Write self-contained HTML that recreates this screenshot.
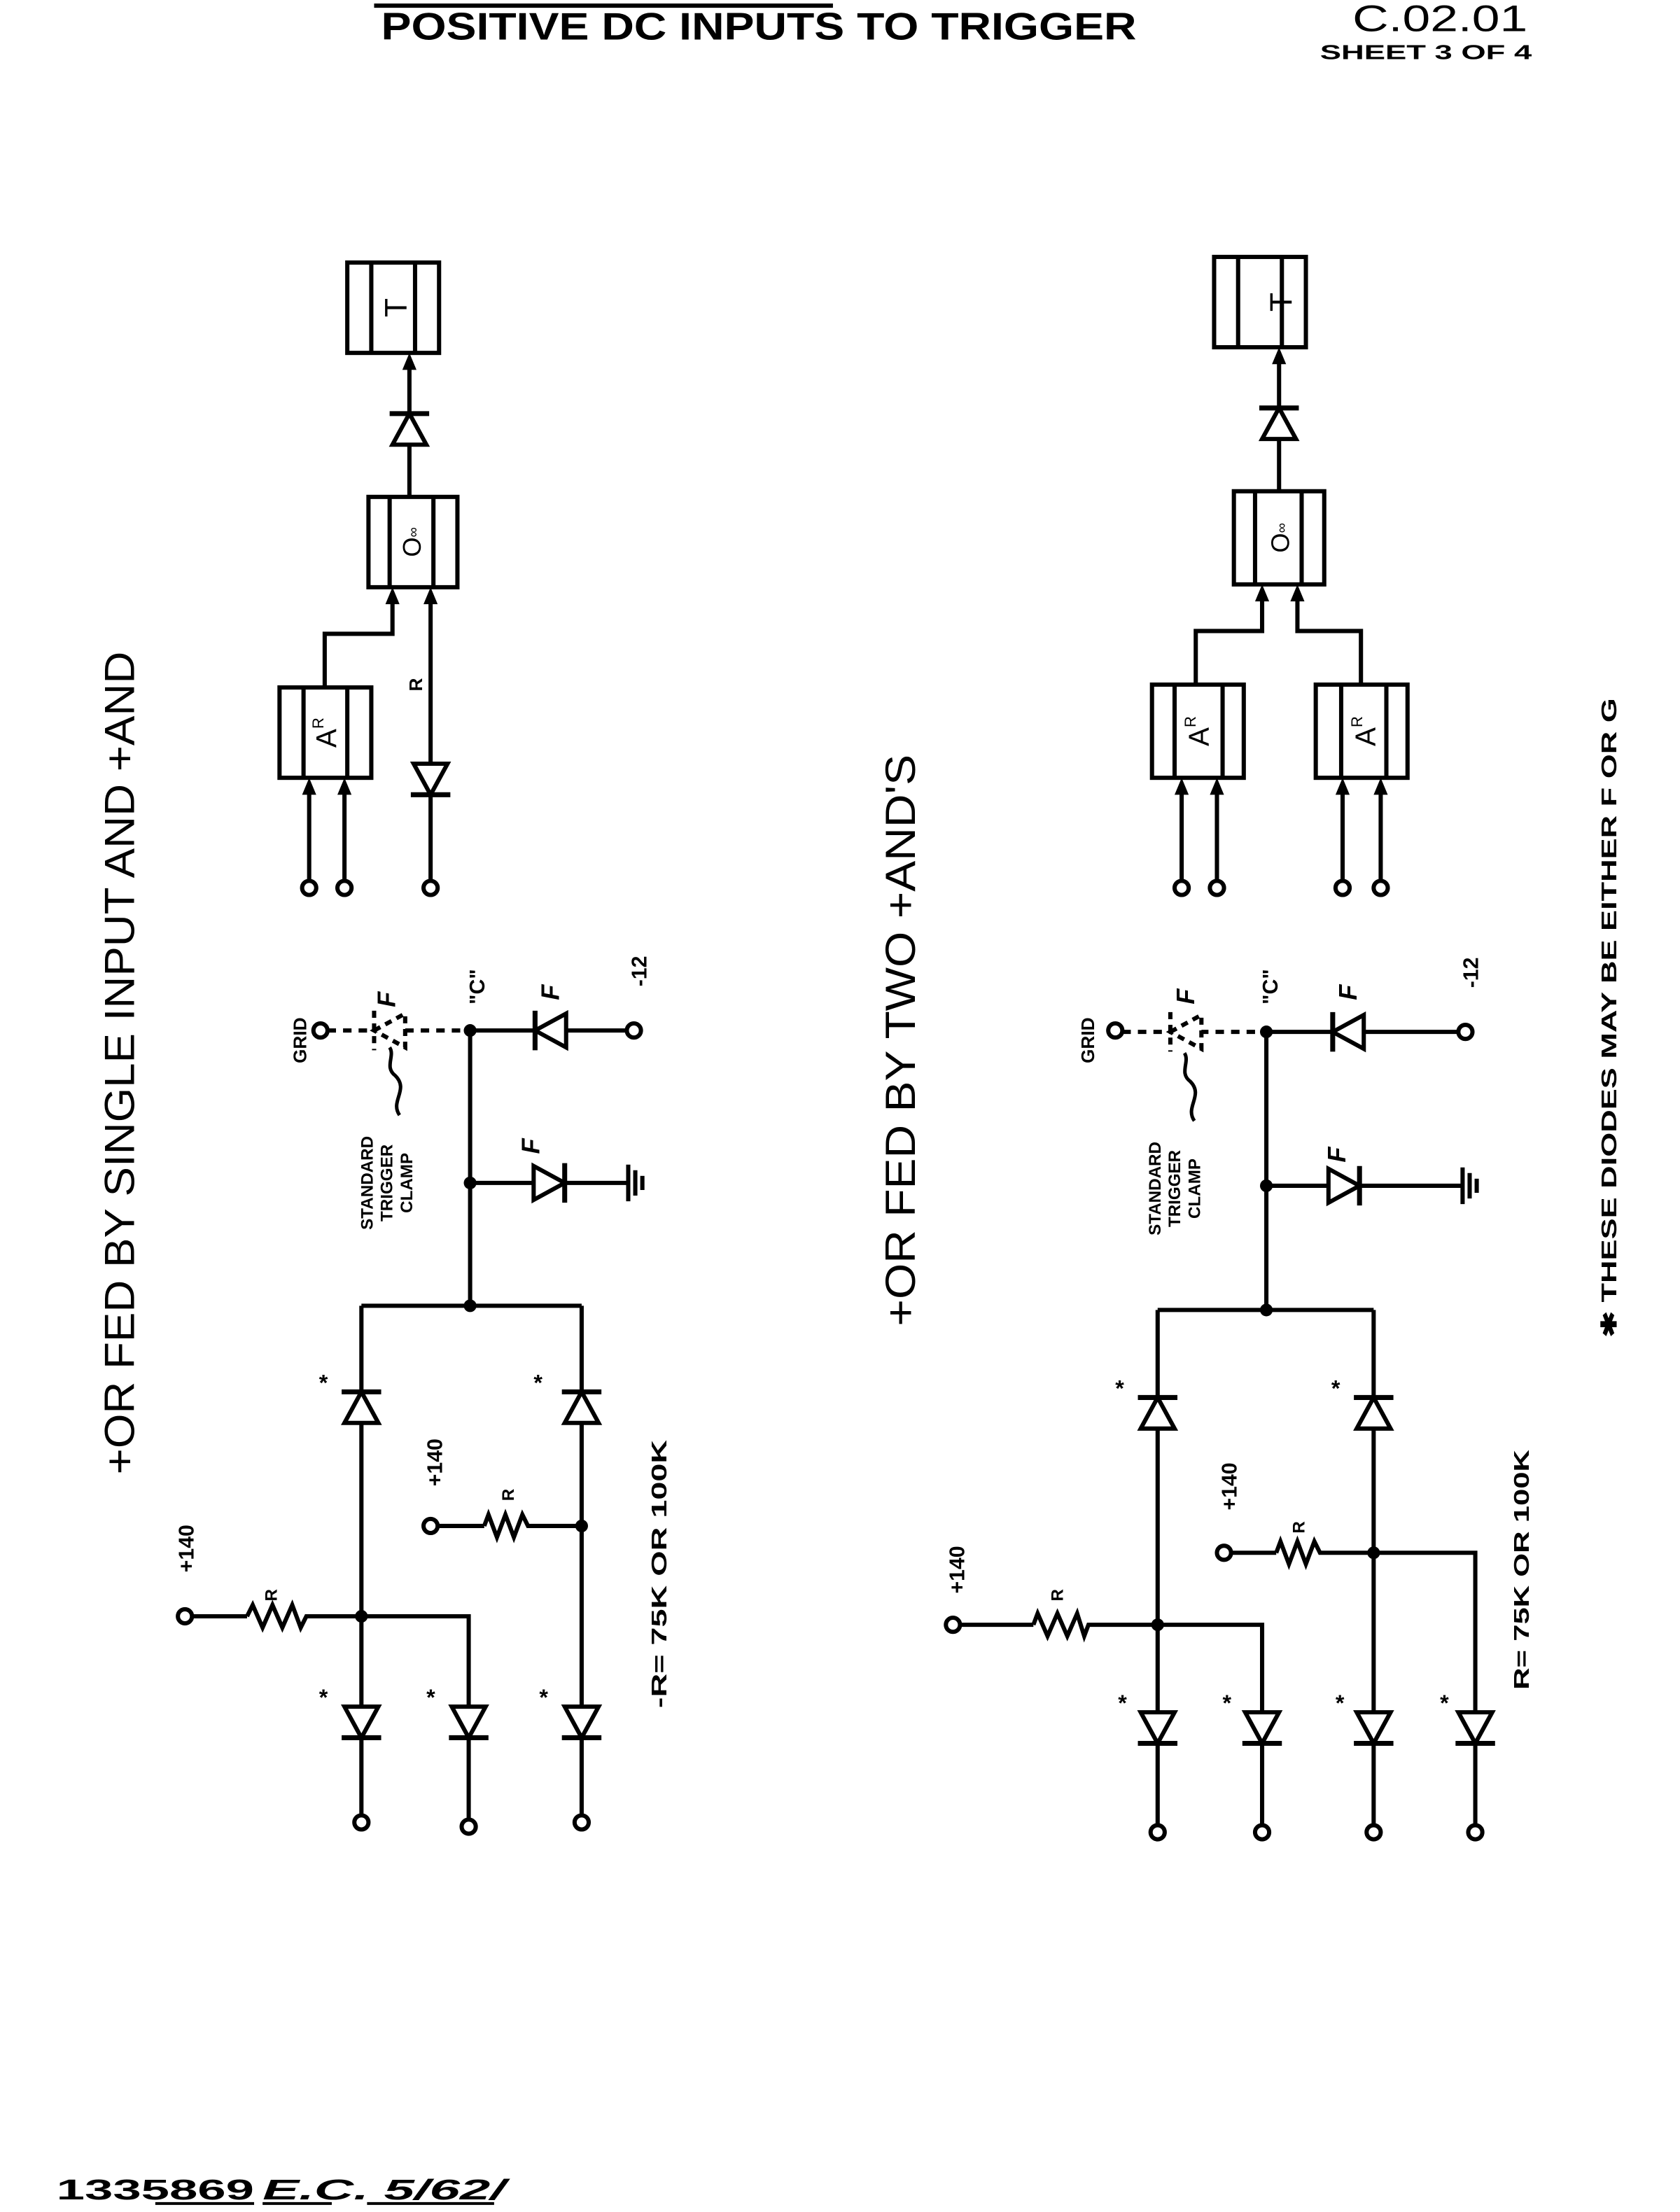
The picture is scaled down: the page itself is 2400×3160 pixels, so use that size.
<!DOCTYPE html>
<html><head><meta charset="utf-8"><style>
html,body{margin:0;padding:0;background:#fff;}
svg{display:block;}
text{font-family:"Liberation Sans",sans-serif;font-weight:bold;fill:#000;}
</style></head><body>
<svg xmlns="http://www.w3.org/2000/svg" width="2400" height="3160" viewBox="0 0 1190 1567" preserveAspectRatio="none">
<defs>
<g id="du"><polygon points="0,-11 -12,11 12,11" fill="#fff" stroke="#000" stroke-width="3"/><line x1="-14" y1="-11" x2="14" y2="-11" stroke="#000" stroke-width="3.5"/></g>
<g id="dd"><polygon points="0,11 -12,-11 12,-11" fill="#fff" stroke="#000" stroke-width="3"/><line x1="-14" y1="11" x2="14" y2="11" stroke="#000" stroke-width="3.5"/></g>
<g id="dl"><polygon points="-11,0 11,-12 11,12" fill="#fff" stroke="#000" stroke-width="3"/><line x1="-11" y1="-14" x2="-11" y2="14" stroke="#000" stroke-width="3.5"/></g>
<g id="dr"><polygon points="11,0 -11,-12 -11,12" fill="#fff" stroke="#000" stroke-width="3"/><line x1="11" y1="-14" x2="11" y2="14" stroke="#000" stroke-width="3.5"/></g>
<g id="dld"><polygon points="-11,0 11,-12 11,12" fill="#fff" stroke="#000" stroke-width="3" stroke-dasharray="5 4"/><line x1="-11" y1="-14" x2="-11" y2="14" stroke="#000" stroke-width="3" stroke-dasharray="5 4"/></g>
</defs>

<!-- header -->
<line x1="265" y1="4" x2="590" y2="4" stroke="#000" stroke-width="3"/>
<text x="270" y="28" font-size="27" textLength="535" lengthAdjust="spacingAndGlyphs">POSITIVE DC INPUTS TO TRIGGER</text>
<text x="958" y="22" font-size="26" textLength="124" lengthAdjust="spacingAndGlyphs" font-weight="normal" style="font-weight:normal">C.02.01</text>
<text x="935" y="42" font-size="14" textLength="150" lengthAdjust="spacingAndGlyphs">SHEET 3 OF 4</text>

<!-- big titles -->
<text transform="translate(95,753) rotate(-90)" text-anchor="middle" font-size="30" textLength="583" lengthAdjust="spacingAndGlyphs" style="font-weight:normal">+OR FED BY SINGLE INPUT AND +AND</text>
<text transform="translate(648,737) rotate(-90)" text-anchor="middle" font-size="30" textLength="405" lengthAdjust="spacingAndGlyphs" style="font-weight:normal">+OR FED BY TWO +AND'S</text>
<text transform="translate(1145,721) rotate(-90)" text-anchor="middle" font-size="15" textLength="453" lengthAdjust="spacingAndGlyphs">✱ THESE DIODES MAY BE EITHER F OR G</text>

<g stroke="#000" stroke-width="3" fill="none">
<!-- ===== LEFT TOP ===== -->
<rect x="246" y="186" width="65" height="64"/>
<line x1="263" y1="186" x2="263" y2="250"/><line x1="294" y1="186" x2="294" y2="250"/>
<line x1="290" y1="352" x2="290" y2="256"/>
<rect x="261" y="352" width="63" height="64"/>
<line x1="276" y1="352" x2="276" y2="416"/><line x1="307" y1="352" x2="307" y2="416"/>
<polyline points="278,422 278,449 230,449 230,487"/>
<line x1="305" y1="422" x2="305" y2="624"/>
<rect x="198" y="487" width="65" height="64"/>
<line x1="215" y1="487" x2="215" y2="551"/><line x1="246" y1="487" x2="246" y2="551"/>
<line x1="219" y1="557" x2="219" y2="624"/><line x1="244" y1="557" x2="244" y2="624"/>

<!-- ===== RIGHT TOP ===== -->
<rect x="860" y="182" width="65" height="64"/>
<line x1="877" y1="182" x2="877" y2="246"/><line x1="908" y1="182" x2="908" y2="246"/>
<line x1="906" y1="348" x2="906" y2="252"/>
<rect x="874" y="348" width="64" height="66"/>
<line x1="889" y1="348" x2="889" y2="414"/><line x1="922" y1="348" x2="922" y2="414"/>
<polyline points="894,420 894,447 847,447 847,485"/>
<polyline points="919,420 919,447 964,447 964,485"/>
<rect x="816" y="485" width="65" height="66"/>
<line x1="832" y1="485" x2="832" y2="551"/><line x1="866" y1="485" x2="866" y2="551"/>
<rect x="932" y="485" width="65" height="66"/>
<line x1="950" y1="485" x2="950" y2="551"/><line x1="982" y1="485" x2="982" y2="551"/>
<line x1="837" y1="557" x2="837" y2="624"/><line x1="862" y1="557" x2="862" y2="624"/>
<line x1="951" y1="557" x2="951" y2="624"/><line x1="978" y1="557" x2="978" y2="624"/>

<!-- ===== LEFT BOTTOM ===== -->
<line x1="232" y1="730" x2="333" y2="730" stroke-dasharray="6 5"/>
<line x1="333" y1="730" x2="444" y2="730"/>
<line x1="333" y1="730" x2="333" y2="925"/>
<line x1="333" y1="838" x2="445" y2="838"/>
<line x1="445" y1="825" x2="445" y2="851"/><line x1="450" y1="829" x2="450" y2="847"/><line x1="455" y1="833" x2="455" y2="843"/>
<line x1="256" y1="925" x2="412" y2="925"/>
<line x1="256" y1="925" x2="256" y2="1286"/>
<line x1="412" y1="925" x2="412" y2="1286"/>
<polyline points="256,1145 332,1145 332,1289"/>
<line x1="136" y1="1145" x2="175" y2="1145"/>
<polyline points="175,1145 179,1137 186,1153 193,1137 200,1153 207,1137 213,1153 217,1145 256,1145"/>
<line x1="310" y1="1081" x2="343" y2="1081"/>
<polyline points="343,1081 346,1073 352,1089 358,1073 364,1089 370,1073 374,1081 412,1081"/>
<path d="M283,790 C276,780 290,772 280,762 C272,756 280,748 276,742" stroke-width="2.5"/>

<!-- ===== RIGHT BOTTOM ===== -->
<line x1="795" y1="731" x2="897" y2="731" stroke-dasharray="6 5"/>
<line x1="897" y1="731" x2="1033" y2="731"/>
<line x1="897" y1="731" x2="897" y2="928"/>
<line x1="897" y1="840" x2="1036" y2="840"/>
<line x1="1036" y1="827" x2="1036" y2="853"/><line x1="1041" y1="831" x2="1041" y2="849"/><line x1="1046" y1="835" x2="1046" y2="845"/>
<line x1="820" y1="928" x2="973" y2="928"/>
<line x1="820" y1="928" x2="820" y2="1293"/>
<line x1="973" y1="928" x2="973" y2="1293"/>
<polyline points="820,1151 894,1151 894,1293"/>
<polyline points="973,1100 1045,1100 1045,1293"/>
<line x1="680" y1="1151" x2="732" y2="1151"/>
<polyline points="732,1151 735,1143 742,1159 749,1143 756,1159 763,1143 768,1159 771,1151 820,1151"/>
<line x1="872" y1="1100" x2="904" y2="1100"/>
<polyline points="904,1100 907,1092 913,1108 919,1092 925,1108 931,1092 935,1100 973,1100"/>
<path d="M846,794 C839,784 853,776 843,766 C835,760 843,752 839,746" stroke-width="2.5"/>
</g>

<!-- arrowheads -->
<g fill="#000">
<polygon points="290,250 285,262 295,262"/>
<polygon points="278,416 273,428 283,428"/>
<polygon points="305,416 300,428 310,428"/>
<polygon points="219,551 214,563 224,563"/>
<polygon points="244,551 239,563 249,563"/>
<polygon points="906,246 901,258 911,258"/>
<polygon points="894,414 889,426 899,426"/>
<polygon points="919,414 914,426 924,426"/>
<polygon points="837,551 832,563 842,563"/>
<polygon points="862,551 857,563 867,563"/>
<polygon points="951,551 946,563 956,563"/>
<polygon points="978,551 973,563 983,563"/>
<!-- nodes -->
<circle cx="333" cy="730" r="4.5"/><circle cx="333" cy="838" r="4.5"/><circle cx="333" cy="925" r="4.5"/>
<circle cx="256" cy="1145" r="4.5"/><circle cx="412" cy="1081" r="4.5"/>
<circle cx="897" cy="731" r="4.5"/><circle cx="897" cy="840" r="4.5"/><circle cx="897" cy="928" r="4.5"/>
<circle cx="820" cy="1151" r="4.5"/><circle cx="973" cy="1100" r="4.5"/>
</g>

<!-- diodes -->
<use href="#du" x="290" y="304"/>
<use href="#dd" x="305" y="552"/>
<use href="#du" x="906" y="300"/>
<use href="#dld" x="276" y="730"/>
<use href="#dl" x="390" y="730"/>
<use href="#dr" x="389" y="838"/>
<use href="#du" x="256" y="997"/><use href="#du" x="412" y="997"/>
<use href="#dd" x="256" y="1220"/><use href="#dd" x="332" y="1220"/><use href="#dd" x="412" y="1220"/>
<use href="#dld" x="840" y="731"/>
<use href="#dl" x="955" y="731"/>
<use href="#dr" x="952" y="840"/>
<use href="#du" x="820" y="1001"/><use href="#du" x="973" y="1001"/>
<use href="#dd" x="820" y="1224"/><use href="#dd" x="894" y="1224"/><use href="#dd" x="973" y="1224"/><use href="#dd" x="1045" y="1224"/>

<!-- terminal circles -->
<g fill="#fff" stroke="#000" stroke-width="3">
<circle cx="219" cy="629" r="5"/><circle cx="244" cy="629" r="5"/><circle cx="305" cy="629" r="5"/>
<circle cx="837" cy="629" r="5"/><circle cx="862" cy="629" r="5"/><circle cx="951" cy="629" r="5"/><circle cx="978" cy="629" r="5"/>
<circle cx="227" cy="730" r="5"/><circle cx="449" cy="730" r="5"/>
<circle cx="131" cy="1145" r="5"/><circle cx="305" cy="1081" r="5"/>
<circle cx="256" cy="1291" r="5"/><circle cx="332" cy="1294" r="5"/><circle cx="412" cy="1291" r="5"/>
<circle cx="790" cy="730" r="5"/><circle cx="1038" cy="731" r="5"/>
<circle cx="675" cy="1151" r="5"/><circle cx="867" cy="1100" r="5"/>
<circle cx="820" cy="1298" r="5"/><circle cx="894" cy="1298" r="5"/><circle cx="973" cy="1298" r="5"/><circle cx="1045" cy="1298" r="5"/>
</g>

<!-- box labels -->
<text transform="translate(288,218) rotate(-90)" text-anchor="middle" font-size="22" style="font-weight:normal">T</text>
<text transform="translate(915,214) rotate(-90)" text-anchor="middle" font-size="22" style="font-weight:normal">T</text>
<text transform="translate(298,384) rotate(-90)" text-anchor="middle" font-size="18" style="font-weight:normal">O<tspan font-size="10" dy="-2">∞</tspan></text>
<text transform="translate(913,381) rotate(-90)" text-anchor="middle" font-size="18" style="font-weight:normal">O<tspan font-size="10" dy="-2">∞</tspan></text>
<text transform="translate(238,519) rotate(-90)" text-anchor="middle" font-size="20" style="font-weight:normal">A<tspan font-size="11" dy="-9">R</tspan></text>
<text transform="translate(856,518) rotate(-90)" text-anchor="middle" font-size="20" style="font-weight:normal">A<tspan font-size="11" dy="-9">R</tspan></text>
<text transform="translate(974,518) rotate(-90)" text-anchor="middle" font-size="20" style="font-weight:normal">A<tspan font-size="11" dy="-9">R</tspan></text>
<text transform="translate(299,485) rotate(-90)" text-anchor="middle" font-size="13">R</text>

<!-- left bottom labels -->
<text transform="translate(217,737) rotate(-90)" text-anchor="middle" font-size="13">GRID</text>
<text transform="translate(264,838) rotate(-90)" text-anchor="middle" font-size="12">STANDARD</text>
<text transform="translate(278,838) rotate(-90)" text-anchor="middle" font-size="12">TRIGGER</text>
<text transform="translate(292,838) rotate(-90)" text-anchor="middle" font-size="12">CLAMP</text>
<text transform="translate(343,699) rotate(-90)" text-anchor="middle" font-size="15">"C"</text>
<text transform="translate(458,688) rotate(-90)" text-anchor="middle" font-size="15">-12</text>
<text transform="translate(280,708) rotate(-90)" text-anchor="middle" font-size="18" font-style="italic">F</text>
<text transform="translate(396,703) rotate(-90)" text-anchor="middle" font-size="18" font-style="italic">F</text>
<text transform="translate(382,812) rotate(-90)" text-anchor="middle" font-size="18" font-style="italic">F</text>
<text transform="translate(137,1097) rotate(-90)" text-anchor="middle" font-size="15">+140</text>
<text transform="translate(313,1036) rotate(-90)" text-anchor="middle" font-size="15">+140</text>
<text transform="translate(196,1130) rotate(-90)" text-anchor="middle" font-size="12">R</text>
<text transform="translate(364,1059) rotate(-90)" text-anchor="middle" font-size="12">R</text>
<text transform="translate(472,1115) rotate(-90)" text-anchor="middle" font-size="15" textLength="190" lengthAdjust="spacingAndGlyphs">-R= 75K OR 100K</text>
<text x="226" y="985" font-size="16">*</text><text x="378" y="985" font-size="16">*</text>
<text x="226" y="1208" font-size="16">*</text><text x="302" y="1208" font-size="16">*</text><text x="382" y="1208" font-size="16">*</text>

<!-- right bottom labels -->
<text transform="translate(775,737) rotate(-90)" text-anchor="middle" font-size="13">GRID</text>
<text transform="translate(822,842) rotate(-90)" text-anchor="middle" font-size="12">STANDARD</text>
<text transform="translate(836,842) rotate(-90)" text-anchor="middle" font-size="12">TRIGGER</text>
<text transform="translate(850,842) rotate(-90)" text-anchor="middle" font-size="12">CLAMP</text>
<text transform="translate(905,699) rotate(-90)" text-anchor="middle" font-size="15">"C"</text>
<text transform="translate(1047,689) rotate(-90)" text-anchor="middle" font-size="15">-12</text>
<text transform="translate(846,706) rotate(-90)" text-anchor="middle" font-size="18" font-style="italic">F</text>
<text transform="translate(961,703) rotate(-90)" text-anchor="middle" font-size="18" font-style="italic">F</text>
<text transform="translate(953,818) rotate(-90)" text-anchor="middle" font-size="18" font-style="italic">F</text>
<text transform="translate(683,1112) rotate(-90)" text-anchor="middle" font-size="15">+140</text>
<text transform="translate(876,1053) rotate(-90)" text-anchor="middle" font-size="15">+140</text>
<text transform="translate(753,1130) rotate(-90)" text-anchor="middle" font-size="12">R</text>
<text transform="translate(924,1082) rotate(-90)" text-anchor="middle" font-size="12">R</text>
<text transform="translate(1083,1112) rotate(-90)" text-anchor="middle" font-size="15" textLength="170" lengthAdjust="spacingAndGlyphs">R= 75K OR 100K</text>
<text x="790" y="989" font-size="16">*</text><text x="943" y="989" font-size="16">*</text>
<text x="792" y="1212" font-size="16">*</text><text x="866" y="1212" font-size="16">*</text><text x="946" y="1212" font-size="16">*</text><text x="1020" y="1212" font-size="16">*</text>

<!-- stamp -->
<text x="40" y="1558" font-size="20" textLength="140" lengthAdjust="spacingAndGlyphs">1335869</text>
<text x="186" y="1558" font-size="20" font-style="italic" textLength="172" lengthAdjust="spacingAndGlyphs">E.C. 5/62/</text>
<line x1="110" y1="1561" x2="180" y2="1561" stroke="#000" stroke-width="2"/>
<line x1="186" y1="1561" x2="235" y2="1561" stroke="#000" stroke-width="2"/>
<line x1="260" y1="1561" x2="350" y2="1561" stroke="#000" stroke-width="2"/>
</svg>
</body></html>
